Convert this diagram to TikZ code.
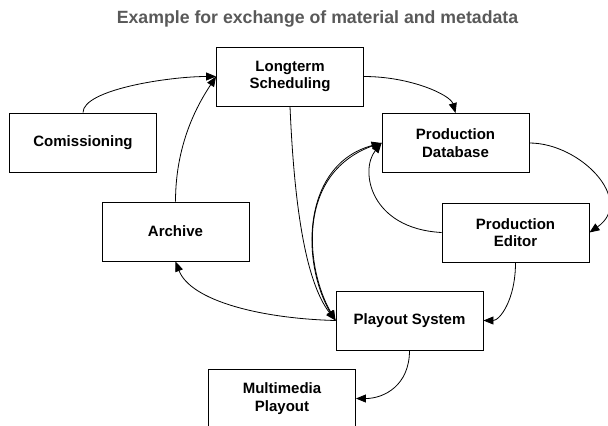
\documentclass[tikz,border=0pt]{standalone}
\usepackage{fontspec}
\setmainfont{Liberation Sans}
\usetikzlibrary{arrows.meta}
\definecolor{titlegray}{RGB}{89,89,89}
\tikzset{
  box/.style={draw=black, line width=0.9bp, fill=white, minimum width=147bp, minimum height=59bp,
    inner sep=0pt, align=center, font=\fontsize{15bp}{17.6bp}\selectfont\bfseries},
  conn/.style={draw=black, line width=0.8bp, -{Triangle[length=10bp,width=8bp]}},
}
\begin{document}
\begin{tikzpicture}[x=1bp,y=-1bp]
\useasboundingbox (0,0) rectangle (608,425);
\node[anchor=base, text=titlegray, font=\fontsize{17.7bp}{20bp}\selectfont\bfseries] (title) at (317.5,23) {Example for exchange of material and metadata};

\node[box] (com) at (83,142.5) {Comissioning};
\node[box] (lt)  at (290,76.5) {Longterm\\Scheduling};
\node[box] (pdb) at (455.5,143) {Production\\Database};
\node[box] (arc) at (175.5,231.5) {Archive};
\node[box] (pe)  at (515.5,232.5) {Production\\Editor};
\node[box] (ps)  at (409.5,320.5) {Playout System};
\node[box] (mm)  at (282,398.5) {Multimedia\\Playout};

\draw[conn] (com.north) .. controls +(0,-23) and +(-47,0) .. (lt.west);
\draw[conn] (arc.north) .. controls +(0,-62) and +(-15,23) .. (lt.west);
\draw[conn] (lt.east) .. controls +(47,0) and +(-5,-18) .. (pdb.north);
\draw[conn] (pdb.east) .. controls +(51,0) and +(46,-32) .. (pe.east);
\draw[conn] (pe.west) .. controls +(-72,-4) and +(-22,27) .. (pdb.west);
\draw[conn] (pe.south) .. controls +(0,38) and +(16,0) .. (ps.east);
\draw[conn] (lt.south) .. controls +(4,94) and +(-31,-40) .. (ps.west);
\draw[conn] (ps.west) .. controls +(-36,-50) and +(-82,22) .. (pdb.west);
\draw[conn] (pdb.west) .. controls +(-88,24) and +(-30,-52) .. (ps.west);
\draw[conn] (ps.west) .. controls +(-76,-2) and +(15,39) .. (arc.south);
\draw[conn] (ps.south) .. controls +(0,35) and +(28,0) .. (mm.east);
\end{tikzpicture}
\end{document}
